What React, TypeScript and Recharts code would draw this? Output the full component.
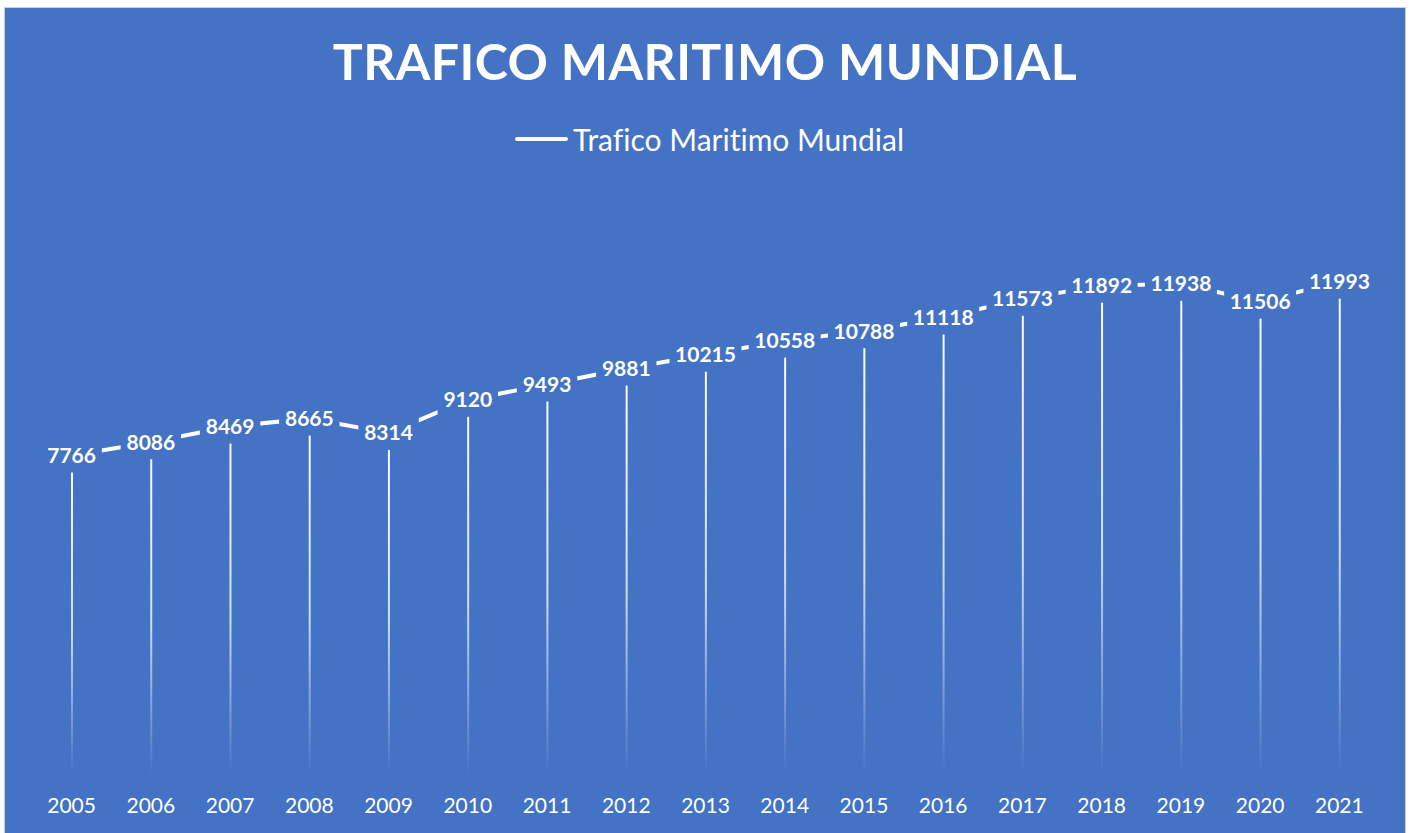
import { ComposedChart, Line, Bar, XAxis, YAxis, LabelList } from "recharts";

const years = ["2005", "2006", "2007", "2008", "2009", "2010", "2011", "2012", "2013", "2014", "2015", "2016", "2017", "2018", "2019", "2020", "2021"];
const traffic = [7766, 8086, 8469, 8665, 8314, 9120, 9493, 9881, 10215, 10558, 10788, 11118, 11573, 11892, 11938, 11506, 11993];
const seriesName = "Trafico Maritimo Mundial";
const title = "TRAFICO MARITIMO MUNDIAL";

const data = years.map((year, i) => ({ year, value: traffic[i] }));

const BLUE = "#4472C4";
const FONT = "Lato, 'Open Sans', sans-serif";

// label sits on the point with a blue box, so the line looks broken around it
const ValueLabel = (props: any) => {
  const { x, y, value } = props;
  const text = String(value);
  const w = text.length * 11.6 + 14;
  const h = 34;
  return (
    <g>
      <rect x={x - w / 2} y={y - h / 2} width={w} height={h} fill={BLUE} />
      <text x={x} y={y} dy={7.5} textAnchor="middle" fill="#fff" fontSize={21} fontWeight={700} fontFamily={FONT}>
        {text}
      </text>
    </g>
  );
};

export default function App() {
  return (
    <div style={{ position: "absolute", left: 0, top: 0, width: 1413, height: 833, background: "#fff", overflow: "hidden" }}>
      <div
        style={{
          position: "absolute",
          left: 4,
          top: 7,
          width: 1400,
          height: 826,
          background: BLUE,
          border: "1px solid #d0d0d0",
          fontFamily: FONT,
          fontVariantLigatures: "none",
        }}
      >
        <div
          style={{
            position: "absolute",
            left: 0,
            top: 23,
            width: 1400,
            textAlign: "center",
            color: "#fff",
            fontSize: 50,
            fontWeight: 700,
            letterSpacing: 0.4,
            lineHeight: "60px",
          }}
        >
          {title}
        </div>
        <div
          style={{
            position: "absolute",
            left: 510,
            top: 111,
            display: "flex",
            alignItems: "center",
            color: "#fff",
            fontSize: 30,
            lineHeight: "40px",
          }}
        >
          <span style={{ display: "inline-block", width: 53, height: 4, borderRadius: 2, background: "#fff", marginRight: 5 }} />
          <span>{seriesName}</span>
        </div>
        <ComposedChart width={1400} height={826} data={data} margin={{ top: 191, right: 26, bottom: 29, left: 27 }}>
          <defs>
            <linearGradient id="dropFade" x1="0" y1="0" x2="0" y2="1">
              <stop offset="0%" stopColor="#fff" stopOpacity={1} />
              <stop offset="55%" stopColor="#fff" stopOpacity={0.75} />
              <stop offset="100%" stopColor="#fff" stopOpacity={0} />
            </linearGradient>
          </defs>
          <XAxis
            dataKey="year"
            axisLine={false}
            tickLine={false}
            tickSize={0}
            tickMargin={23}
            height={30}
            interval={0}
            tick={{ fill: "#fff", fontSize: 21, fontFamily: FONT }}
          />
          <YAxis hide domain={[0, 14000]} />
          <Bar dataKey="value" barSize={2} fill="url(#dropFade)" isAnimationActive={false} legendType="none" />
          <Line
            type="linear"
            dataKey="value"
            name={seriesName}
            stroke="#fff"
            strokeWidth={4}
            dot={false}
            activeDot={false}
            isAnimationActive={false}
          >
            <LabelList dataKey="value" content={ValueLabel} />
          </Line>
        </ComposedChart>
      </div>
    </div>
  );
}
